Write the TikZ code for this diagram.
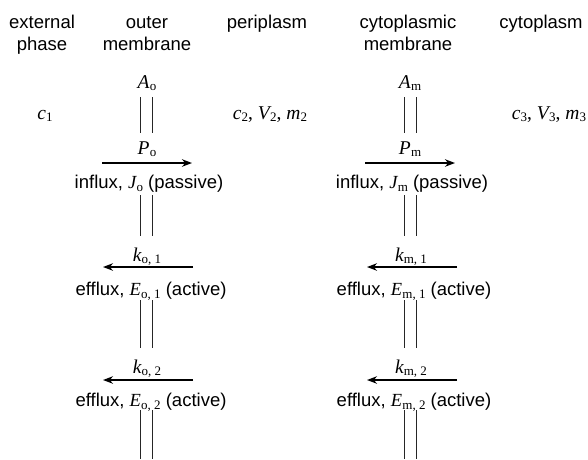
\documentclass[tikz,border=0pt]{standalone}
\usepackage{fontspec}
\setmainfont{Liberation Sans}
\newfontfamily\tms{Liberation Serif}
\usetikzlibrary{arrows.meta}
% italic symbol with an upright subscript
\newcommand\sy[2]{{\tms\itshape #1}\kern0.2pt\raisebox{-0.32ex}{\tms\fontsize{13}{13}\selectfont #2}}

\begin{document}
\begin{tikzpicture}[x=1pt,y=-1pt,
  hdr/.style={font=\fontsize{18.5}{22}\selectfont, inner sep=0pt, anchor=base},
  lbl/.style={font=\fontsize{18.5}{22}\selectfont, inner sep=0pt, anchor=base},
  sym/.style={font=\tms\fontsize{19.5}{22}\selectfont, inner sep=0pt, anchor=base},
  wall/.style={line width=1.3pt, draw=black!85},
  flow/.style={line width=1.9pt, -{Stealth[length=10pt,width=7.5pt]}}]
\useasboundingbox (0,0) rectangle (588,459);

% column headings
\node[hdr] (ext1) at (42,28) {external};
\node[hdr] (ext2) at (42,50) {phase};
\node[hdr] (out1) at (147,28) {outer};
\node[hdr] (out2) at (147,50) {membrane};
\node[hdr] (peri) at (267,28) {periplasm};
\node[hdr] (cym1) at (408,28) {cytoplasmic};
\node[hdr] (cym2) at (408,50) {membrane};
\node[hdr] (cyto) at (541,28) {cytoplasm};

% areas of the two membranes
\node[sym] (Ao) at (147,88) {\sy{A}{o}};
\node[sym] (Am) at (410,88) {\sy{A}{m}};

% compartment contents
\node[sym] (c1) at (45,119) {\sy{c}{1}};
\node[sym] (c2) at (270,119) {\sy{c}{2}, \sy{V}{2}, \sy{m}{2}};
\node[sym] (c3) at (549,119) {\sy{c}{3}, \sy{V}{3}, \sy{m}{3}};

% rate constants above the arrows
\node[sym] (Po)  at (147,154) {\sy{P}{o}};
\node[sym] (Pm)  at (410,154) {\sy{P}{m}};
\node[sym] (ko1) at (147,261) {\sy{k}{o, 1}};
\node[sym] (km1) at (411,261) {\sy{k}{m, 1}};
\node[sym] (ko2) at (147,373) {\sy{k}{o, 2}};
\node[sym] (km2) at (411,373) {\sy{k}{m, 2}};

% flux descriptions below the arrows
\node[lbl] (Jo)  at (149,188) {influx, \sy{J}{o} (passive)};
\node[lbl] (Jm)  at (412,188) {influx, \sy{J}{m} (passive)};
\node[lbl] (Eo1) at (151,295) {efflux, \sy{E}{o, 1} (active)};
\node[lbl] (Em1) at (414,295) {efflux, \sy{E}{m, 1} (active)};
\node[lbl] (Eo2) at (151,406) {efflux, \sy{E}{o, 2} (active)};
\node[lbl] (Em2) at (414,406) {efflux, \sy{E}{m, 2} (active)};

% arrow end points
\coordinate (oi1) at (102,163); \coordinate (oi2) at (192,163);
\coordinate (mi1) at (365,163); \coordinate (mi2) at (455,163);
\coordinate (oe1) at (193,267); \coordinate (oe2) at (103,267);
\coordinate (me1) at (457,267); \coordinate (me2) at (367,267);
\coordinate (of1) at (193,380); \coordinate (of2) at (103,380);
\coordinate (mf1) at (457,380); \coordinate (mf2) at (367,380);

\draw[flow] (oi1) -- (oi2);
\draw[flow] (mi1) -- (mi2);
\draw[flow] (oe1) -- (oe2);
\draw[flow] (me1) -- (me2);
\draw[flow] (of1) -- (of2);
\draw[flow] (mf1) -- (mf2);

% membrane walls: pairs of parallel lines between the labels
\foreach \cx/\m in {146.5/o, 410.5/m}{
  \foreach \ya/\yb/\s in {97/133/1, 195/236/2, 300/348/3, 410/459/4}{
    \coordinate (w\m\s a) at (\cx,\ya);
    \coordinate (w\m\s b) at (\cx,\yb);
    \draw[wall] ([xshift=-6pt]w\m\s a) -- ([xshift=-6pt]w\m\s b);
    \draw[wall] ([xshift=6pt]w\m\s a) -- ([xshift=6pt]w\m\s b);
  }
}
\end{tikzpicture}
\end{document}
